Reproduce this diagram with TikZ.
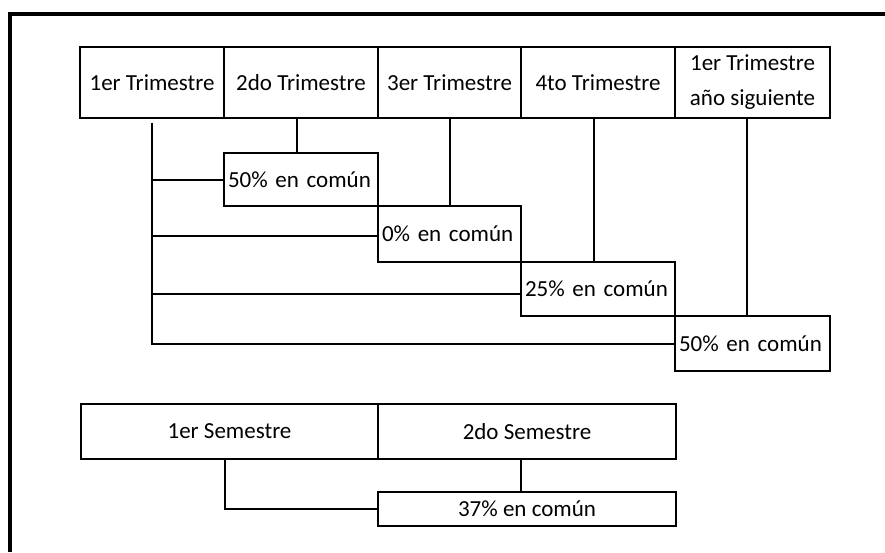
\documentclass[tikz,border=0pt]{standalone}
\usepackage{fontspec}
\setmainfont{Carlito}
\begin{document}
\begin{tikzpicture}[x=1pt,y=-1pt,
  box/.style={draw, line width=1.8pt, inner sep=0pt, font=\fontsize{23}{35}\selectfont, align=center},
  lbox/.style={box, align=left, text width=#1},
  conn/.style={line width=2pt},
  frame/.style={line width=3.5pt}]
\useasboundingbox (0,0) rectangle (885,552);
\draw[frame] (10,552) -- (10,14) -- (885,14);
% trimestres
\node[box, minimum width=144pt, minimum height=71pt] (t1) at (152,82.5) {1er Trimestre};
\node[box, minimum width=154pt, minimum height=71pt] (t2) at (301,82.5) {2do Trimestre};
\node[box, minimum width=143pt, minimum height=71pt] (t3) at (449.5,82.5) {3er Trimestre};
\node[box, minimum width=154pt, minimum height=71pt] (t4) at (598,82.5) {4to Trimestre};
\node[box, minimum width=155pt, minimum height=71pt] (t5) at (752.5,82.5) {1er Trimestre\\año siguiente};
% porcentajes
\node[lbox=146pt, minimum width=154pt, minimum height=53pt] (p1) at (301,179.5) {50\% en común};
\node[lbox=135pt, minimum width=143pt, minimum height=56pt] (p2) at (449.5,234) {0\% en común};
\node[lbox=146pt, minimum width=154pt, minimum height=54pt] (p3) at (598,289) {25\% en común};
\node[lbox=147pt, minimum width=155pt, minimum height=55pt] (p4) at (752.5,343.5) {50\% en común};
% semestres
\node[box, minimum width=297pt, minimum height=55pt] (s1) at (229.5,431.5) {1er Semestre};
\node[box, minimum width=298pt, minimum height=55pt] (s2) at (527,431.5) {2do Semestre};
\node[box, minimum width=298pt, minimum height=34pt] (p5) at (527,509) {37\% en común};
% connectors
\draw[conn] ([yshift=-4pt]t1.south) -- (t1.south |- p4.west) -- (p4.west);
\draw[conn] (t1.south |- p1.west) -- (p1.west);
\draw[conn] ([yshift=-2pt]t1.south |- p2.west) -- ([yshift=-2pt]p2.west);
\draw[conn] ([yshift=-5pt]t1.south |- p3.west) -- ([yshift=-5pt]p3.west);
\draw[conn] ([xshift=-4pt]t2.south) -- ([xshift=-4pt]p1.north);
\draw[conn] (t3.south) -- (p2.north);
\draw[conn] ([xshift=-4pt]t4.south) -- ([xshift=-4pt]p3.north);
\draw[conn] ([xshift=-5.5pt]t5.south) -- ([xshift=-5.5pt]p4.north);
\draw[conn] ([xshift=-4.5pt]s1.south) |- (p5.west);
\draw[conn] ([xshift=-6pt]s2.south) -- ([xshift=-6pt]p5.north);
\end{tikzpicture}
\end{document}
